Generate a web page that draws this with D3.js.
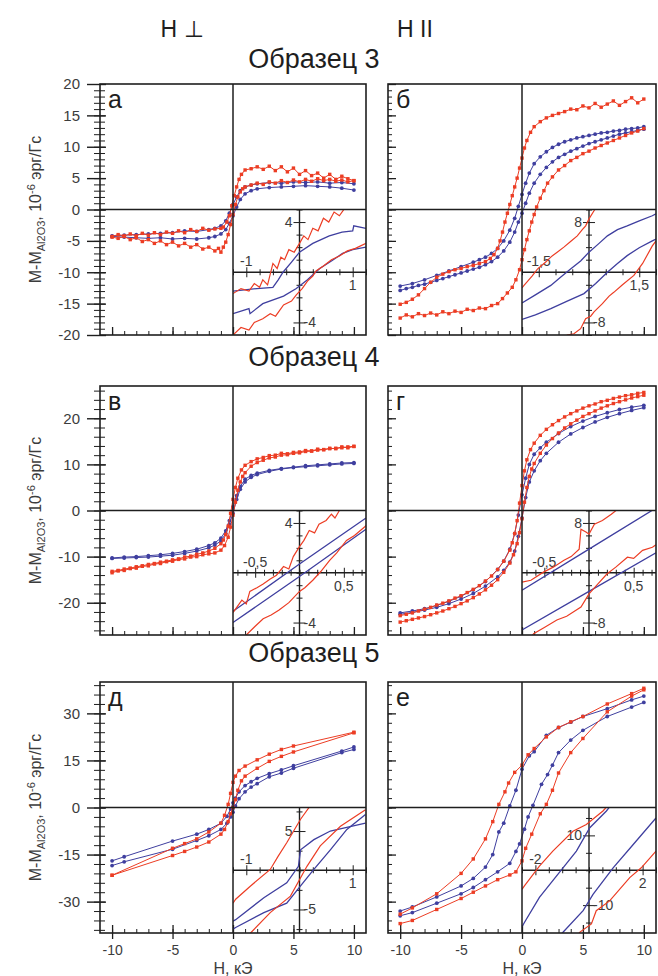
<!DOCTYPE html>
<html>
<head>
<meta charset="utf-8">
<script src="https://cdn.jsdelivr.net/npm/d3@7"></script>
<style>
  body { margin: 0; background: #fff; }
  text { font-family: "Liberation Sans", Arial, sans-serif; }
</style>
</head>
<body>
<div id="chart"></div>
<script>
// ---------- data: main loops, [H (kOe), M (10^-6 erg/G)] ----------
// panel а (sample 3, H perpendicular)
var a_redUp = [[10,4.6],[9.5,4.9],[9,5.3],[8.5,4.8],[8,5.6],[7.5,5.0],[7,5.8],[6.5,5.4],[6,6.2],[5.5,5.6],[5,6.6],[4.5,6.0],[4,6.8],[3.5,6.2],[3,6.9],[2.5,6.4],[2,6.8],[1.5,6.5],[1,6.3],[0.7,5.6],[0.5,4.8],[0.3,3.6],[0.1,2.2],[-0.1,0.6],[-0.3,-1.0],[-0.5,-2.0],[-0.8,-2.8],[-1,-3.0],[-1.5,-3.1],[-2,-3.3],[-2.5,-3.0],[-3,-3.5],[-3.5,-3.2],[-4,-3.7],[-4.5,-3.4],[-5,-3.8],[-5.5,-3.6],[-6,-4.0],[-6.5,-3.7],[-7,-4.1],[-7.5,-3.8],[-8,-4.2],[-8.5,-3.9],[-9,-4.2],[-9.5,-4.0],[-10,-4.3]];
var a_redDown = [[-10,-4.4],[-9.5,-4.6],[-9,-4.3],[-8.5,-4.8],[-8,-4.5],[-7.5,-5.1],[-7,-4.8],[-6.5,-5.4],[-6,-5.0],[-5.5,-5.6],[-5,-5.2],[-4.5,-5.8],[-4,-5.4],[-3.5,-6.0],[-3,-5.6],[-2.5,-6.3],[-2,-6.0],[-1.5,-6.6],[-1.2,-6.2],[-1,-6.8],[-0.8,-6.0],[-0.6,-5.2],[-0.4,-4.0],[-0.2,-2.4],[0,-0.8],[0.2,0.8],[0.4,2.0],[0.6,2.8],[0.8,3.3],[1,3.6],[1.5,3.9],[2,4.2],[2.5,4.0],[3,4.4],[3.5,4.2],[4,4.6],[4.5,4.3],[5,4.7],[5.5,4.4],[6,4.8],[6.5,4.5],[7,4.9],[7.5,4.6],[8,4.8],[8.5,4.5],[9,4.7],[9.5,4.4],[10,4.6]];
var a_blueUp = [[10,4.1],[9,4.3],[8,4.2],[7,4.4],[6,4.3],[5,4.4],[4,4.2],[3,4.3],[2,4.1],[1.5,3.9],[1,3.6],[0.6,3.0],[0.3,2.0],[0,0.8],[-0.3,-0.6],[-0.6,-1.8],[-1,-2.6],[-1.5,-3.0],[-2,-3.2],[-3,-3.5],[-4,-3.4],[-5,-3.7],[-6,-3.8],[-7,-3.9],[-8,-4.0],[-9,-4.1],[-10,-4.2]];
var a_blueDown = [[-10,-4.3],[-9,-4.4],[-8,-4.5],[-7,-4.6],[-6,-4.5],[-5,-4.7],[-4,-4.6],[-3,-4.7],[-2,-4.5],[-1.5,-4.3],[-1,-3.9],[-0.6,-3.2],[-0.3,-2.2],[0,-1.0],[0.3,0.4],[0.6,1.6],[1,2.5],[1.5,3.0],[2,3.3],[3,3.5],[4,3.6],[5,3.7],[6,3.8],[7,3.7],[8,3.6],[9,3.4],[10,3.1]];

// panel б (sample 3, H parallel)
var b_redUp = [[10,17.6],[9.5,17.0],[9,17.8],[8.5,17.2],[8,16.6],[7.5,17.3],[7,16.8],[6.5,16.3],[6,16.9],[5.5,16.2],[5,16.5],[4.5,15.9],[4,16.0],[3.5,15.6],[3,15.3],[2.5,15.0],[2,14.6],[1.5,14.0],[1,13.2],[0.7,12.3],[0.4,11.0],[0.2,9.8],[0,8.2],[-0.2,6.6],[-0.4,5.0],[-0.6,3.6],[-0.8,2.2],[-1,0.8],[-1.2,-0.6],[-1.4,-2.0],[-1.6,-3.6],[-1.8,-5.0],[-2,-6.2],[-2.3,-7.2],[-2.6,-7.8],[-3,-8.3],[-3.5,-8.6],[-4,-8.9],[-4.5,-9.1],[-5,-9.4],[-5.5,-9.6],[-6,-9.9],[-6.5,-10.3],[-7,-10.8],[-7.5,-11.6],[-8,-12.6],[-8.5,-13.6],[-9,-14.3],[-9.5,-14.8],[-10,-15.1]];
var b_redDown = [[-10,-17.3],[-9.5,-16.8],[-9,-17.1],[-8.5,-16.6],[-8,-16.9],[-7.5,-16.5],[-7,-16.8],[-6.5,-16.3],[-6,-16.6],[-5.5,-16.2],[-5,-16.4],[-4.5,-15.9],[-4,-16.1],[-3.5,-15.7],[-3,-15.8],[-2.5,-15.3],[-2,-15.0],[-1.6,-14.2],[-1.2,-13.3],[-0.8,-12.4],[-0.5,-11.2],[-0.2,-9.6],[0,-8.0],[0.2,-6.4],[0.4,-4.8],[0.6,-3.4],[0.8,-2.0],[1,-0.8],[1.2,0.4],[1.5,1.8],[1.8,3.0],[2.1,4.2],[2.5,5.2],[3,6.3],[3.5,7.0],[4,7.8],[4.5,8.3],[5,8.9],[5.5,9.3],[6,9.8],[6.5,10.2],[7,10.6],[7.5,11.0],[8,11.4],[8.5,11.8],[9,12.2],[9.5,12.5],[10,12.9]];
var b_blueUp = [[10,13.2],[9.5,13.0],[9,12.9],[8.5,12.8],[8,12.6],[7.5,12.5],[7,12.3],[6.5,12.2],[6,12.0],[5.5,11.8],[5,11.6],[4.5,11.4],[4,11.1],[3.5,10.8],[3,10.4],[2.5,9.9],[2,9.2],[1.5,8.4],[1,7.3],[0.6,5.8],[0.3,4.2],[0,2.4],[-0.3,0.5],[-0.6,-1.4],[-1,-3.3],[-1.5,-5.0],[-2,-6.2],[-2.5,-7.0],[-3,-7.6],[-3.5,-8.0],[-4,-8.4],[-5,-9.1],[-6,-9.8],[-7,-10.5],[-8,-11.2],[-9,-11.8],[-10,-12.2]];
var b_blueDown = [[-10,-12.9],[-9.5,-12.6],[-9,-12.4],[-8.5,-12.1],[-8,-11.9],[-7.5,-11.6],[-7,-11.3],[-6.5,-11.0],[-6,-10.7],[-5.5,-10.4],[-5,-10.1],[-4.5,-9.8],[-4,-9.5],[-3.5,-9.2],[-3,-8.8],[-2.5,-8.3],[-2,-7.6],[-1.5,-6.6],[-1,-5.2],[-0.6,-3.6],[-0.3,-2.0],[0,-0.6],[0.3,1.0],[0.6,2.6],[1,4.2],[1.5,5.6],[2,6.7],[2.5,7.6],[3,8.3],[3.5,8.8],[4,9.3],[4.5,9.7],[5,10.1],[5.5,10.5],[6,10.8],[6.5,11.1],[7,11.4],[7.5,11.7],[8,12.0],[8.5,12.2],[9,12.4],[9.5,12.6],[10,12.8]];

// panel в (sample 4, H perpendicular)
var c_redUp = [[10,13.9],[9.5,13.6],[9,13.8],[8.5,13.4],[8,13.5],[7.5,13.2],[7,13.3],[6.5,12.9],[6,13.0],[5.5,12.7],[5,12.6],[4.5,12.3],[4,12.4],[3.5,12.0],[3,11.9],[2.5,11.5],[2,11.2],[1.5,10.6],[1,9.8],[0.7,8.8],[0.4,7.0],[0.2,5.0],[0,2.4],[-0.2,-0.6],[-0.4,-3.4],[-0.6,-5.2],[-0.8,-6.4],[-1,-7.2],[-1.5,-8.2],[-2,-8.8],[-2.5,-9.2],[-3,-9.5],[-3.5,-9.9],[-4,-10.1],[-4.5,-10.5],[-5,-10.7],[-5.5,-11.0],[-6,-11.2],[-6.5,-11.5],[-7,-11.7],[-7.5,-12.0],[-8,-12.2],[-8.5,-12.5],[-9,-12.7],[-9.5,-13.0],[-10,-13.2]];
var c_redDown = [[-10,-13.5],[-9.5,-13.1],[-9,-13.0],[-8.5,-12.6],[-8,-12.5],[-7.5,-12.1],[-7,-12.0],[-6.5,-11.6],[-6,-11.5],[-5.5,-11.1],[-5,-11.0],[-4.5,-10.6],[-4,-10.5],[-3.5,-10.1],[-3,-10.0],[-2.5,-9.6],[-2,-9.4],[-1.5,-9.2],[-1,-8.6],[-0.7,-7.6],[-0.4,-5.8],[-0.2,-3.6],[0,-1.0],[0.2,1.8],[0.4,4.4],[0.6,6.2],[0.8,7.4],[1,8.2],[1.5,9.6],[2,10.4],[2.5,10.9],[3,11.4],[3.5,11.6],[4,12.0],[4.5,12.1],[5,12.4],[5.5,12.5],[6,12.8],[6.5,12.9],[7,13.1],[7.5,13.2],[8,13.4],[8.5,13.5],[9,13.6],[9.5,13.8],[10,13.9]];
var c_blueUp = [[10,10.4],[9,10.3],[8,10.1],[7,9.9],[6,9.7],[5,9.4],[4,9.1],[3,8.7],[2,8.1],[1.5,7.6],[1,6.8],[0.6,5.2],[0.3,3.2],[0,0.8],[-0.3,-2.2],[-0.6,-4.4],[-1,-6.0],[-1.5,-7.0],[-2,-7.6],[-3,-8.4],[-4,-8.9],[-5,-9.3],[-6,-9.6],[-7,-9.8],[-8,-10.0],[-9,-10.1],[-10,-10.3]];
var c_blueDown = [[-10,-10.4],[-9,-10.3],[-8,-10.2],[-7,-10.1],[-6,-9.9],[-5,-9.7],[-4,-9.3],[-3,-8.8],[-2,-8.1],[-1.5,-7.5],[-1,-6.6],[-0.6,-5.0],[-0.3,-3.0],[0,-0.6],[0.3,2.4],[0.6,4.6],[1,6.2],[1.5,7.2],[2,7.8],[3,8.5],[4,9.0],[5,9.3],[6,9.5],[7,9.7],[8,9.9],[9,10.1],[10,10.2]];

// panel г (sample 4, H parallel)
var d_redUp = [[10,25.6],[9.5,25.4],[9,25.1],[8.5,24.9],[8,24.6],[7.5,24.3],[7,23.9],[6.5,23.6],[6,23.1],[5.5,22.7],[5,22.2],[4.5,21.6],[4,21.0],[3.5,20.3],[3,19.5],[2.5,18.6],[2,17.6],[1.5,16.3],[1,14.6],[0.7,13.2],[0.4,11.0],[0.2,8.6],[0,5.4],[-0.2,1.6],[-0.4,-2.2],[-0.6,-5.0],[-0.8,-7.0],[-1,-8.6],[-1.5,-11.0],[-2,-12.8],[-2.5,-14.2],[-3,-15.3],[-3.5,-16.3],[-4,-17.1],[-4.5,-17.8],[-5,-18.5],[-5.5,-19.0],[-6,-19.6],[-6.5,-20.1],[-7,-20.5],[-7.5,-21.0],[-8,-21.4],[-8.5,-21.8],[-9,-22.2],[-9.5,-22.5],[-10,-22.8]];
var d_redDown = [[-10,-24.2],[-9.5,-23.9],[-9,-23.6],[-8.5,-23.3],[-8,-23.0],[-7.5,-22.6],[-7,-22.2],[-6.5,-21.8],[-6,-21.3],[-5.5,-20.8],[-5,-20.2],[-4.5,-19.6],[-4,-18.9],[-3.5,-18.1],[-3,-17.2],[-2.5,-16.2],[-2,-15.0],[-1.5,-13.4],[-1,-11.4],[-0.7,-9.6],[-0.4,-7.2],[-0.2,-4.8],[0,-1.8],[0.2,1.8],[0.4,5.0],[0.6,7.4],[0.8,9.0],[1,10.2],[1.5,12.4],[2,14.2],[2.5,15.6],[3,16.8],[3.5,17.9],[4,18.8],[4.5,19.6],[5,20.4],[5.5,21.0],[6,21.6],[6.5,22.2],[7,22.7],[7.5,23.2],[8,23.6],[8.5,24.0],[9,24.4],[9.5,24.7],[10,25.0]];
var d_blueUp = [[10,22.8],[9,22.4],[8,21.9],[7,21.2],[6,20.4],[5,19.4],[4,18.2],[3,16.7],[2,14.8],[1.5,13.6],[1,12.2],[0.6,10.0],[0.3,7.0],[0,3.4],[-0.3,-1.0],[-0.6,-5.0],[-1,-8.4],[-1.5,-11.0],[-2,-12.8],[-3,-15.4],[-4,-17.2],[-5,-18.6],[-6,-19.7],[-7,-20.6],[-8,-21.3],[-9,-21.8],[-10,-22.2]];
var d_blueDown = [[-10,-22.5],[-9,-22.1],[-8,-21.6],[-7,-21.0],[-6,-20.2],[-5,-19.2],[-4,-18.0],[-3,-16.4],[-2,-14.4],[-1.5,-13.0],[-1,-11.2],[-0.6,-8.8],[-0.3,-5.6],[0,-1.6],[0.3,2.8],[0.6,6.2],[1,8.6],[1.5,10.8],[2,12.4],[3,14.8],[4,16.6],[5,18.0],[6,19.2],[7,20.2],[8,21.0],[9,21.7],[10,22.3]];

// panel д (sample 5, H perpendicular)
var e_redUp = [[10,24],[5,19.6],[4,18.5],[3,17],[2,15.2],[1,13.2],[0.5,11.8],[0.2,10],[0,8],[-0.2,4.5],[-0.4,1],[-0.7,-2.5],[-1,-5],[-2,-7.8],[-3,-10],[-4,-11.5],[-5,-13],[-10,-21.6]];
var e_redDown = [[-10,-21.6],[-5,-15.3],[-4,-14],[-3,-12.6],[-2,-11],[-1,-8.5],[-0.7,-7],[-0.4,-4.5],[-0.2,-2],[0,0],[0.2,2.5],[0.4,5.5],[0.7,8.5],[1,10],[2,12.5],[3,14.7],[4,16.3],[5,17.7],[10,23.8]];
var e_blueUp = [[10,19.3],[9,18],[5,13.3],[4,12],[3,10.8],[2,9.3],[1.5,8.2],[1,7],[0.5,5],[0.2,3],[0,1.5],[-0.2,-0.5],[-0.5,-2.8],[-1,-5],[-2,-7],[-3,-8.5],[-5,-10.7],[-9,-15.7],[-10,-17]];
var e_blueDown = [[-10,-18.5],[-9,-17.3],[-5,-13.3],[-3,-10.5],[-2,-9],[-1,-7],[-0.5,-5],[-0.2,-3],[0,-1.5],[0.2,0.5],[0.5,2.8],[1,5],[1.5,6.5],[2,7.6],[3,9.8],[4,11],[5,12.5],[9,17.5],[10,18.5]];

// panel е (sample 5, H parallel)
var f_redUp = [[10,38],[9,36.3],[7,33],[5,29],[4,27.3],[3,25.5],[2,22.5],[1,18.8],[0.5,16.8],[0,13.5],[-0.6,11.2],[-1.1,7.8],[-1.4,5],[-1.9,1],[-2.4,-4.5],[-3,-10],[-4,-16.4],[-5,-21],[-7,-27.5],[-9,-32],[-10,-34]];
var f_redDown = [[-10,-37],[-9,-36],[-7,-32.5],[-5,-29],[-4,-27],[-3,-25],[-2,-23],[-1,-21.5],[-0.5,-20.5],[0,-17],[0.3,-13],[0.8,-8.5],[1.5,-2],[2,1],[2.5,5.5],[3,11],[4,17.5],[5,22],[7,30.5],[9,35.5],[10,37.5]];
var f_blueUp = [[10,35.5],[9,34.3],[7,31.5],[5,29],[4,27.2],[3,25.5],[2,23],[1,17.8],[0.6,16.5],[0,12.2],[-0.5,5.5],[-1,0.5],[-1.5,-5],[-1.9,-7.8],[-2.4,-15],[-3,-19],[-4,-22.6],[-5,-25],[-7,-28.5],[-9,-31.7],[-10,-33]];
var f_blueDown = [[-10,-34.5],[-9,-33.5],[-7,-30.5],[-5,-27.5],[-4,-25.5],[-3,-23],[-2,-20.5],[-1,-17.8],[-0.5,-14],[-0.2,-11.6],[0.2,-6.9],[0.5,-3],[0.9,0.7],[1.6,7.4],[2.1,10.5],[2.5,13.5],[3,17.5],[4,21.5],[5,24.6],[7,29],[9,32],[10,33.5]];

// ---------- data: insets (zoom near origin) ----------
var a_inRedUp = [[-1.25,-1.7],[-1.1,-1.3],[-0.95,-1.5],[-0.85,-0.9],[-0.75,-1.2],[-0.69,-0.6],[-0.6,-1.0],[-0.5,0.7],[-0.42,0.3],[-0.35,1.2],[-0.28,1.0],[-0.2,1.8],[-0.1,1.6],[0,2.3],[0.08,2.9],[0.16,2.6],[0.25,3.5],[0.35,3.3],[0.45,4.3],[0.55,4.0],[0.65,4.8],[0.75,4.5],[0.85,5.1]];
var a_inRedDown = [[-1.25,-5],[-1.1,-4.4],[-0.95,-4.6],[-0.85,-4.0],[-0.69,-3.7],[-0.55,-3.3],[-0.45,-3.5],[-0.3,-2.6],[-0.15,-2.3],[-0.06,-1.8],[0.05,-1.3],[0.15,-0.7],[0.25,-0.3],[0.31,0.1],[0.45,0.5],[0.6,1.0],[0.75,1.3],[0.9,1.7],[1.05,1.9],[1.25,2.3]];
var a_inBlueUp = [[-1.25,-1.5],[-0.8,-1.3],[-0.5,-1.2],[-0.4,-0.6],[-0.31,0],[-0.15,0.8],[0,1.6],[0.25,2.3],[0.56,2.9],[0.8,3.2],[1.0,3.3],[1.02,3.7],[1.25,3.5]];
var a_inBlueDown = [[-1.25,-3.3],[-0.95,-2.9],[-0.93,-3.3],[-0.69,-2.5],[-0.3,-1.9],[-0.06,-1.3],[0.15,-0.6],[0.38,0.3],[0.6,0.9],[0.81,1.5],[1.0,1.8],[1.25,2.0]];

var b_inRedUp = [[-2,-2.5],[-1.94,-2.1],[-1.7,-0.6],[-1.54,0.5],[-1.3,1.6],[-1.1,2.6],[-0.95,3.2],[-0.75,4.0],[-0.55,4.9],[-0.35,5.8],[-0.2,6.8],[-0.1,7.4],[0,8.5],[0.15,9.8],[0.25,10.6]];
var b_inRedDown = [[-0.7,-10.8],[-0.65,-10],[-0.45,-9.8],[-0.25,-9],[-0.1,-7.4],[0.05,-7.0],[0.15,-6.3],[0.4,-5.0],[0.6,-3.8],[0.74,-3.2],[1.0,-2.0],[1.34,-0.5],[1.6,1.4],[1.89,4.2],[2,5]];
var b_inBlueUp = [[-2,-4.9],[-1.6,-3.6],[-1.14,-2.1],[-0.85,-0.8],[-0.55,0.5],[-0.25,1.8],[0,3.2],[0.3,4.6],[0.55,5.8],[0.85,6.8],[1.14,7.4],[1.5,8.2],[1.89,9],[2,9.3]];
var b_inBlueDown = [[-2,-7.5],[-1.6,-6.8],[-1.14,-5.8],[-0.65,-4.6],[-0.15,-3.4],[0.2,-1.8],[0.55,0],[0.85,1.4],[1.14,2.65],[1.5,3.9],[1.89,5],[2,5.3]];

var c_inRedUp = [[-0.75,-3.2],[-0.73,-3],[-0.65,-2.2],[-0.6,-2.5],[-0.56,-1.5],[-0.48,-1.2],[-0.41,-0.9],[-0.33,-0.5],[-0.26,-0.2],[-0.18,0.5],[-0.12,0.3],[-0.07,1.3],[0,2.1],[0.05,2.6],[0.11,3.4],[0.17,3.2],[0.22,3.9],[0.3,4.2],[0.36,4.7],[0.4,4.4],[0.45,5.0],[0.5,5.4]];
var c_inRedDown = [[-0.65,-5.4],[-0.6,-5],[-0.5,-4.3],[-0.41,-3.7],[-0.32,-3.4],[-0.23,-3],[-0.12,-2.4],[0,-1.5],[0.06,-1.2],[0.15,-0.6],[0.24,0.1],[0.34,1],[0.42,1.6],[0.53,2.6],[0.62,3],[0.73,3.65],[0.75,3.8]];
var c_inBlueUp = [[-0.75,-3.1],[0,0.7],[0.75,4.4]];
var c_inBlueDown = [[-0.75,-4.0],[0,-0.3],[0.75,3.5]];

var d_inRedUp = [[-0.75,-1.5],[-0.65,-1.2],[-0.51,0.1],[-0.4,0.9],[-0.28,2],[-0.2,2.6],[-0.11,3.8],[-0.09,7],[-0.03,6.5],[0,6.2],[0.06,7.8],[0.15,8.4],[0.25,9.4],[0.32,10.2],[0.38,10.8]];
var d_inRedDown = [[-0.65,-10.4],[-0.62,-9.8],[-0.5,-8.8],[-0.36,-7.6],[-0.25,-7],[-0.09,-5.5],[0,-3.4],[0.1,-1.8],[0.2,-0.2],[0.3,0.9],[0.43,2.5],[0.5,2.3],[0.6,3.6],[0.71,4.1],[0.75,4.5]];
var d_inBlueUp = [[-0.75,-2.8],[0,3.8],[0.75,10.4]];
var d_inBlueDown = [[-0.75,-9.2],[0,-3.0],[0.75,3.2]];

var e_inRedUp = [[-1.25,-4.2],[-1.2,-3.7],[-0.92,-2],[-0.55,0.1],[-0.4,1.8],[-0.24,3.5],[0.02,6.5],[0.2,8.2],[0.25,8.8]];
var e_inRedDown = [[-1.0,-8.6],[-0.92,-8],[-0.55,-5.4],[-0.17,-3.3],[0.14,0.5],[0.39,3.1],[0.77,5.6],[1.24,7.7]];
var e_inBlueUp = [[-1.25,-6.5],[-1.2,-6.3],[-0.67,-3.5],[-0.24,-1.6],[-0.02,0.5],[0.02,2.6],[0.27,3.9],[0.58,5],[1.24,6]];
var e_inBlueDown = [[-1.25,-7.5],[-1.2,-7.3],[-0.67,-5.4],[-0.24,-4.2],[0.02,-2],[0.27,0.1],[0.58,2.6],[0.89,5.2],[1.24,7.1]];

var f_inRedUp = [[-2.5,-5.5],[-2.41,-4.5],[-1.85,1.2],[-1.35,5.5],[-0.6,11.2],[-0.1,13.1],[0.52,17],[0.7,18.5]];
var f_inRedDown = [[-0.4,-18.5],[-0.35,-17.8],[0.09,-15.4],[0.27,-11.6],[0.77,-8.8],[1.52,-2.1],[1.95,0.7],[2.5,5.5]];
var f_inBlueUp = [[-2.5,-16.2],[-2.41,-15],[-1.85,-7.8],[-0.97,0.7],[-0.47,5.5],[0.03,12.2],[0.65,17],[0.8,18.5]];
var f_inBlueDown = [[-1.05,-18.5],[-0.97,-17.8],[-0.22,-11.6],[0.15,-6.9],[0.9,0.7],[1.65,7.4],[2.5,15]];

// ---------- labels ----------
var panelLetters = ["а", "б", "в", "г", "д", "е"];
var sampleTitles = ["Образец 3", "Образец 4", "Образец 5"];
var columnTitles = ["H \u22A5", "H II"];
var xTickLabels = [-10, -5, 0, 5, 10];
var yLabelMain = "M-M", yLabelSub = "Al2O3", yLabelPre = ", 10", yLabelSup = "-6", yLabelPost = " эрг/Гс";
var xLabel = "H, кЭ";

// ---------- layout ----------
var W = 658, H = 976;
var RED = "#ec3d24", BLUE = "#3f3f9f", INK = "#1e1e1e", GRAY = "#3c3c3c";
var FONT = "Liberation Sans, Arial, sans-serif";

var cols = [{ x0: 100, x1: 366 }, { x0: 388, x1: 656 }];
var rows = [
    { y0: 84, y1: 335, ymax: 20, major: 5, minor: 1, head: 68 },
    { y0: 386, y1: 635, ymax: 27, major: 10, minor: 2, head: 366 },
    { y0: 682, y1: 933, ymax: 40, major: 15, minor: 3, head: 662 }
];

var panels = [
    { row: 0, col: 0, red: [a_redUp, a_redDown], blue: [a_blueUp, a_blueDown],
      inset: { x: [-1.25, 1.25], y: [-5, 5], xs: 0.25, ys: 1, xl: [-1, 1], yl: [4, -4], red: [a_inRedUp, a_inRedDown], blue: [a_inBlueUp, a_inBlueDown] } },
    { row: 0, col: 1, red: [b_redUp, b_redDown], blue: [b_blueUp, b_blueDown],
      inset: { x: [-2, 2], y: [-10, 10], xs: 0.5, ys: 2, xl: [-1.5, 1.5], yl: [8, -8], red: [b_inRedUp, b_inRedDown], blue: [b_inBlueUp, b_inBlueDown] } },
    { row: 1, col: 0, red: [c_redUp, c_redDown], blue: [c_blueUp, c_blueDown],
      inset: { x: [-0.75, 0.75], y: [-5, 5], xs: 0.1, ys: 1, xl: [-0.5, 0.5], yl: [4, -4], red: [c_inRedUp, c_inRedDown], blue: [c_inBlueUp, c_inBlueDown] } },
    { row: 1, col: 1, red: [d_redUp, d_redDown], blue: [d_blueUp, d_blueDown],
      inset: { x: [-0.75, 0.75], y: [-10, 10], xs: 0.1, ys: 2, xl: [-0.5, 0.5], yl: [8, -8], red: [d_inRedUp, d_inRedDown], blue: [d_inBlueUp, d_inBlueDown] } },
    { row: 2, col: 0, red: [e_redUp, e_redDown], blue: [e_blueUp, e_blueDown],
      inset: { x: [-1.25, 1.25], y: [-8, 8], xs: 0.25, ys: 2.5, xl: [-1, 1], yl: [5, -5], red: [e_inRedUp, e_inRedDown], blue: [e_inBlueUp, e_inBlueDown] } },
    { row: 2, col: 1, red: [f_redUp, f_redDown], blue: [f_blueUp, f_blueDown],
      inset: { x: [-2.5, 2.5], y: [-18, 18], xs: 0.5, ys: 5, xl: [-2, 2], yl: [10, -10], red: [f_inRedUp, f_inRedDown], blue: [f_inBlueUp, f_inBlueDown] } }
];

var svg = d3.select("#chart").append("svg")
    .attr("width", W)
    .attr("height", H)
    .style("background", "#fff");

// tick positions between lo and hi
function steps(lo, hi, step) {
    var out = [];
    for (var i = Math.ceil(lo / step - 1e-9); i <= Math.floor(hi / step + 1e-9); i++) out.push(+(i * step).toFixed(4));
    return out;
}
function fmt(v) { return String(v).replace(".", ","); }

// column titles and sample headings
columnTitles.forEach(function (t, i) {
    svg.append("text")
        .attr("x", i === 0 ? 182 : 415).attr("y", 37)
        .attr("text-anchor", "middle")
        .attr("font-size", 23).attr("fill", INK)
        .text(t);
});
rows.forEach(function (r, i) {
    svg.append("text")
        .attr("x", 314).attr("y", r.head)
        .attr("text-anchor", "middle")
        .attr("font-size", 27).attr("fill", INK)
        .text(sampleTitles[i]);
});

panels.forEach(function (p, pi) {
    var c = cols[p.col], r = rows[p.row];
    var x = d3.scaleLinear().domain([-11, 11]).range([c.x0, c.x1]);
    var y = d3.scaleLinear().domain([-r.ymax, r.ymax]).range([r.y1, r.y0]);
    var g = svg.append("g").attr("class", "panel");

    var clipId = "clip" + pi, clipIn = "clipin" + pi;
    var defs = g.append("defs");
    defs.append("clipPath").attr("id", clipId).append("rect")
        .attr("x", c.x0).attr("y", r.y0).attr("width", c.x1 - c.x0).attr("height", r.y1 - r.y0);
    defs.append("clipPath").attr("id", clipIn).append("rect")
        .attr("x", x(0)).attr("y", y(0)).attr("width", c.x1 - x(0)).attr("height", r.y1 - y(0));

    // ---- y axis ----
    var yMinor = steps(-r.ymax, r.ymax, r.minor), yMajor = steps(-r.ymax, r.ymax, r.major);
    if (p.col === 0) {
        g.append("g").attr("transform", "translate(" + c.x0 + ",0)")
            .call(d3.axisLeft(y).tickValues(yMinor).tickSize(6).tickFormat(""))
            .call(function (a) { a.select(".domain").remove(); a.selectAll("line").attr("x1", 5).attr("stroke", INK); });
        g.append("g").attr("transform", "translate(" + c.x0 + ",0)")
            .call(d3.axisLeft(y).tickValues(yMajor).tickSize(13).tickPadding(7).tickFormat(function (d) { return String(d); }))
            .attr("font-size", 15).attr("font-family", FONT)
            .call(function (a) {
                a.select(".domain").remove();
                a.selectAll("line").attr("x1", 6).attr("stroke", INK).attr("stroke-width", 1.4);
                a.selectAll("text").attr("fill", GRAY);
            });

        // y axis title
        var lab = svg.append("text")
            .attr("transform", "translate(41," + y(0) + ") rotate(-90)")
            .attr("text-anchor", "middle")
            .attr("font-size", 16).attr("fill", GRAY);
        lab.append("tspan").text(yLabelMain);
        lab.append("tspan").attr("font-size", 11).attr("dy", 4).text(yLabelSub);
        lab.append("tspan").attr("dy", -4).text(yLabelPre);
        lab.append("tspan").attr("font-size", 11).attr("dy", -6).text(yLabelSup);
        lab.append("tspan").attr("dy", 6).text(yLabelPost);
    } else {
        g.append("g").attr("transform", "translate(" + c.x0 + ",0)")
            .call(d3.axisRight(y).tickValues(yMinor).tickSize(4).tickFormat(""))
            .call(function (a) { a.select(".domain").remove(); a.selectAll("line").attr("stroke", INK); });
        g.append("g").attr("transform", "translate(" + c.x0 + ",0)")
            .call(d3.axisRight(y).tickValues(yMajor).tickSize(8).tickFormat(""))
            .call(function (a) { a.select(".domain").remove(); a.selectAll("line").attr("stroke", INK).attr("stroke-width", 1.3); });
    }

    // ---- x axis ----
    var xMinor = steps(-10, 10, 1), xMajor = steps(-10, 10, 5);
    g.append("g").attr("transform", "translate(0," + r.y1 + ")")
        .call(d3.axisBottom(x).tickValues(xMinor).tickSize(-4).tickFormat(""))
        .call(function (a) { a.select(".domain").remove(); a.selectAll("line").attr("stroke", INK); });
    var last = p.row === 2;
    g.append("g").attr("transform", "translate(0," + r.y1 + ")")
        .call(d3.axisBottom(x).tickValues(last ? xTickLabels : xMajor).tickSize(last ? 6 : 0).tickPadding(6)
            .tickFormat(last ? function (d) { return String(d); } : ""))
        .attr("font-size", 14).attr("font-family", FONT)
        .call(function (a) {
            a.select(".domain").remove();
            a.selectAll("line").attr("y1", -8).attr("stroke", INK).attr("stroke-width", 1.3);
            a.selectAll("text").attr("fill", GRAY);
        });
    if (last) {
        g.append("text").attr("x", x(0)).attr("y", 974)
            .attr("text-anchor", "middle").attr("font-size", 16).attr("fill", GRAY)
            .text(xLabel);
    }

    // ---- inset ----
    var ins = p.inset;
    var ix = d3.scaleLinear().domain(ins.x).range([x(0), c.x1]);
    var iy = d3.scaleLinear().domain(ins.y).range([r.y1, y(0)]);
    var gi = g.append("g");
    var ax0 = ix(0), ay0 = iy(0);

    gi.append("line").attr("x1", x(0)).attr("x2", c.x1).attr("y1", ay0).attr("y2", ay0)
        .attr("stroke", INK).attr("stroke-width", 1.4);
    gi.append("line").attr("x1", ax0).attr("x2", ax0).attr("y1", y(0)).attr("y2", r.y1)
        .attr("stroke", INK).attr("stroke-width", 1.4);

    gi.append("g").attr("transform", "translate(0," + ay0 + ")")
        .call(d3.axisBottom(ix).tickValues(steps(ins.x[0], ins.x[1], ins.xs)).tickSize(3).tickFormat(""))
        .call(function (a) {
            a.select(".domain").remove();
            a.selectAll("line").attr("stroke", INK)
                .attr("y1", function (d) { return ins.xl.indexOf(d) >= 0 ? -5 : -3; })
                .attr("y2", function (d) { return ins.xl.indexOf(d) >= 0 ? 5 : 3; });
        });
    gi.append("g").attr("transform", "translate(" + ax0 + ",0)")
        .call(d3.axisLeft(iy).tickValues(steps(ins.y[0], ins.y[1], ins.ys)).tickSize(3).tickFormat(""))
        .call(function (a) {
            a.select(".domain").remove();
            a.selectAll("line").attr("stroke", INK)
                .attr("x1", function (d) { return ins.yl.indexOf(d) >= 0 ? 6 : 3; })
                .attr("x2", function (d) { return ins.yl.indexOf(d) >= 0 ? -6 : -3; });
        });

    // inset tick labels: negative H above the axis, positive below; positive M left, negative M right
    gi.append("text").attr("x", ix(ins.xl[0])).attr("y", ay0 - 6)
        .attr("text-anchor", "middle").attr("font-size", 14).attr("fill", GRAY).text(fmt(ins.xl[0]));
    gi.append("text").attr("x", ix(ins.xl[1])).attr("y", ay0 + 18)
        .attr("text-anchor", "middle").attr("font-size", 14).attr("fill", GRAY).text(fmt(ins.xl[1]));
    gi.append("text").attr("x", ax0 - 7).attr("y", iy(ins.yl[0]) + 5)
        .attr("text-anchor", "end").attr("font-size", 14).attr("fill", GRAY).text(fmt(ins.yl[0]));
    gi.append("text").attr("x", ax0 + 4).attr("y", iy(ins.yl[1]) + 5)
        .attr("text-anchor", "start").attr("font-size", 14).attr("fill", GRAY).text(fmt(ins.yl[1]));

    var iline = d3.line().x(function (d) { return ix(d[0]); }).y(function (d) { return iy(d[1]); });
    var gic = gi.append("g").attr("clip-path", "url(#" + clipIn + ")");
    ins.blue.forEach(function (b) {
        gic.append("path").attr("d", iline(b)).attr("fill", "none").attr("stroke", BLUE).attr("stroke-width", 1.3);
    });
    ins.red.forEach(function (b) {
        gic.append("path").attr("d", iline(b)).attr("fill", "none").attr("stroke", RED).attr("stroke-width", 1.2);
    });

    // ---- main loops ----
    var line = d3.line().x(function (d) { return x(d[0]); }).y(function (d) { return y(d[1]); });
    var gm = g.append("g").attr("clip-path", "url(#" + clipId + ")");
    p.blue.forEach(function (b) {
        gm.append("path").attr("d", line(b)).attr("fill", "none").attr("stroke", BLUE).attr("stroke-width", 1);
        gm.selectAll(null).data(b).enter().append("circle")
            .attr("cx", function (d) { return x(d[0]); })
            .attr("cy", function (d) { return y(d[1]); })
            .attr("r", 1.9).attr("fill", BLUE);
    });
    p.red.forEach(function (b) {
        gm.append("path").attr("d", line(b)).attr("fill", "none").attr("stroke", RED).attr("stroke-width", 1);
        gm.selectAll(null).data(b).enter().append("rect")
            .attr("x", function (d) { return x(d[0]) - 1.7; })
            .attr("y", function (d) { return y(d[1]) - 1.7; })
            .attr("width", 3.4).attr("height", 3.4).attr("fill", RED);
    });

    // ---- zero lines and frame ----
    g.append("line").attr("x1", c.x0).attr("x2", c.x1).attr("y1", y(0)).attr("y2", y(0))
        .attr("stroke", INK).attr("stroke-width", 1.5);
    g.append("line").attr("x1", x(0)).attr("x2", x(0)).attr("y1", r.y0).attr("y2", r.y1)
        .attr("stroke", INK).attr("stroke-width", 1.5);
    g.append("rect").attr("x", c.x0).attr("y", r.y0).attr("width", c.x1 - c.x0).attr("height", r.y1 - r.y0)
        .attr("fill", "none").attr("stroke", INK).attr("stroke-width", 1.6);

    g.append("text").attr("x", c.x0 + 8).attr("y", r.y0 + 24)
        .attr("font-size", 25).attr("fill", INK)
        .text(panelLetters[pi]);
});
</script>
</body>
</html>
